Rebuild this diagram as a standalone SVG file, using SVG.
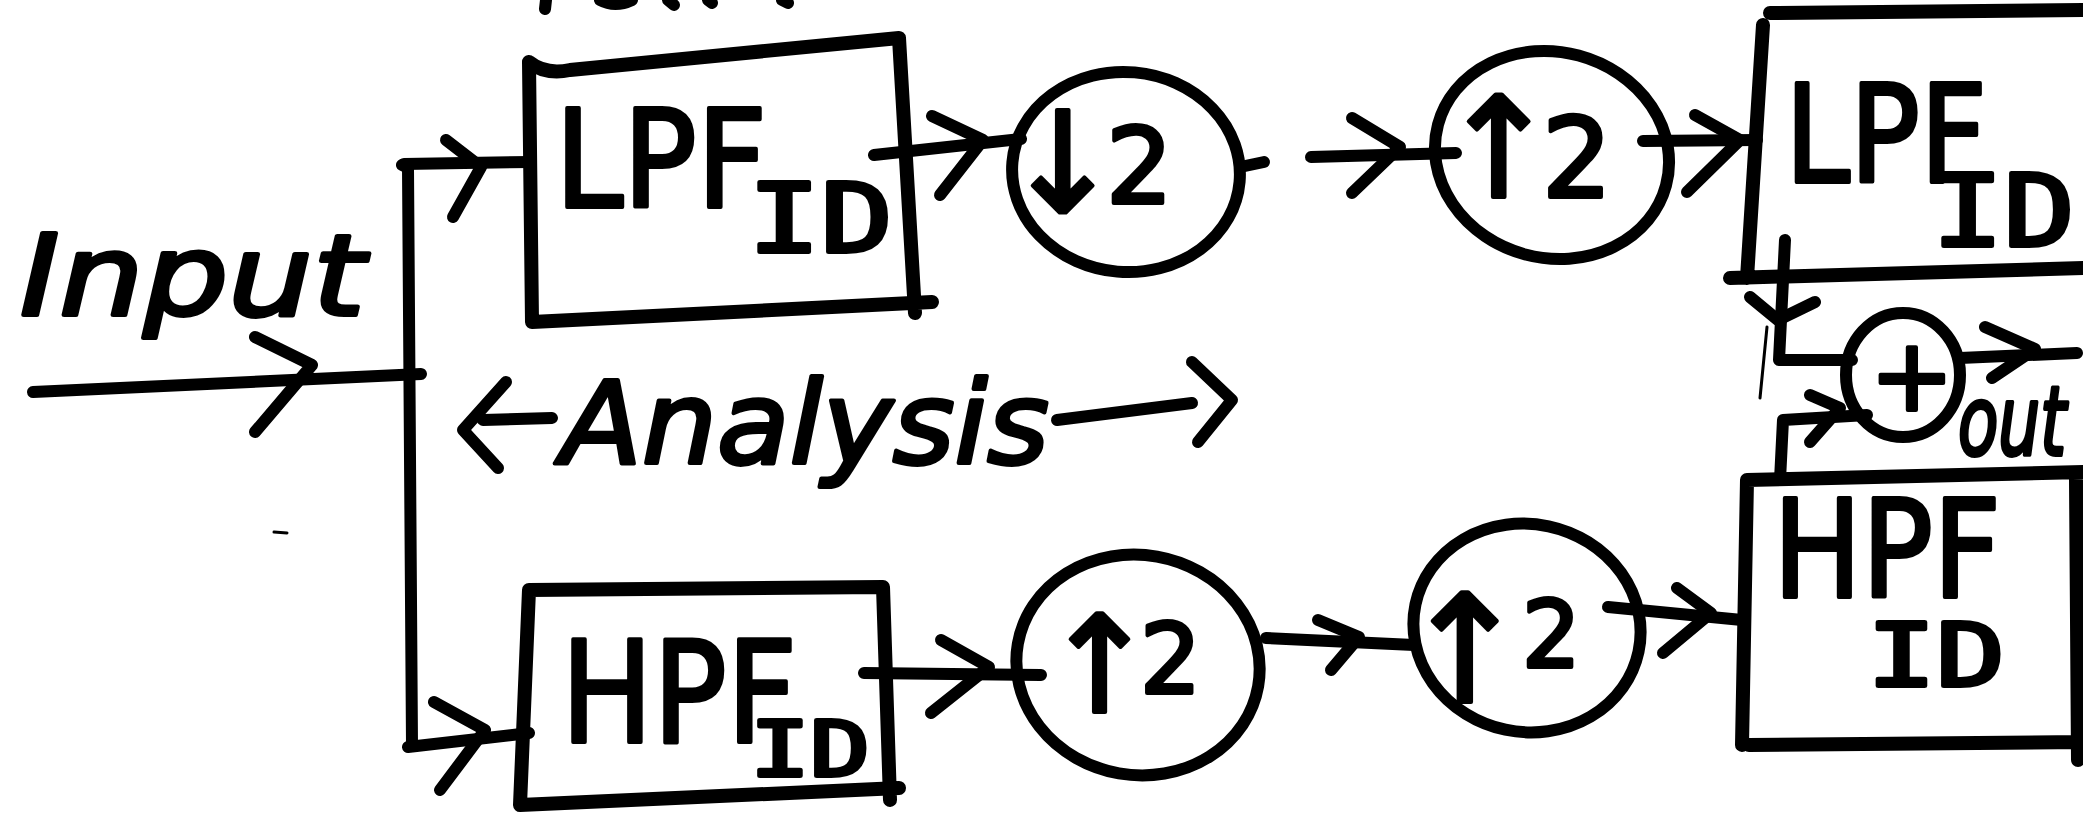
<svg xmlns="http://www.w3.org/2000/svg" width="2083" height="820" viewBox="0 0 2083 820">
  <defs>
    <style>
      .ink { fill: none; stroke: #000; stroke-width: 12; stroke-linecap: round; stroke-linejoin: round; }
      .thick { stroke-width: 14; }
      .hair { fill: none; stroke: #000; stroke-width: 3; stroke-linecap: round; }
      .lbl { font-family: "DejaVu Sans", "Noto Sans", sans-serif; fill: #000; stroke: #000; stroke-width: 4; stroke-linejoin: round; }
      .sub { font-family: "DejaVu Sans Mono", "Liberation Mono", monospace; }
      .hand { font-family: "DejaVu Sans", "Noto Sans", sans-serif; font-style: italic; fill: #000; stroke: #000; stroke-width: 4; stroke-linejoin: round; }
    </style>
  </defs>
  <rect width="2083" height="820" fill="#fff"/>

  <!-- ink stubs along the top edge -->
  <g id="top-stubs" class="ink">
    <path d="M546,0 L545,9"/>
    <path d="M600,0 Q615,8 632,0"/>
    <path d="M668,0 L674,5"/>
    <path d="M708,0 L712,3"/>
    <path d="M782,0 L788,3"/>
  </g>
  <path class="hair" d="M274,532 L287,533"/>

  <!-- connectors -->
  <g id="connectors" class="ink">
    <!-- input line and trunk -->
    <path d="M33,392 L421,374"/>
    <path d="M255,337 L312,365 L255,432"/>
    <path d="M402,165 L408,168 L412,745"/>
    <!-- trunk to LPF -->
    <path d="M404,164 L531,162"/>
    <path d="M446,140 L481,167 L453,217"/>
    <!-- trunk to HPF -->
    <path d="M408,747 L529,733"/>
    <path d="M434,702 L485,730 L440,790"/>
    <!-- LPF -> down2 -->
    <path d="M874,155 L1021,139"/>
    <path d="M932,116 L983,140 L940,195"/>
    <!-- down2 -> up2 (top) -->
    <path d="M1245,166 L1264,162"/>
    <path d="M1311,157 L1456,153"/>
    <path d="M1352,118 L1400,147 L1352,193"/>
    <!-- up2 -> LPF synthesis -->
    <path d="M1643,141 L1757,140"/>
    <path d="M1695,115 L1740,140 L1687,192"/>
    <!-- LPF synthesis -> sum -->
    <path d="M1785,240 L1779,360 L1852,360"/>
    <path d="M1750,297 L1778,320 L1815,302"/>
    <!-- HPF synthesis -> sum -->
    <path d="M1780,480 L1783,420 L1867,415"/>
    <path d="M1810,395 L1840,408 L1810,442"/>
    <!-- sum -> out -->
    <path d="M1960,358 L2077,353"/>
    <path d="M1985,327 L2035,349 L1992,378"/>
    <!-- HPF -> up2 (bottom) -->
    <path d="M864,673 L1041,675"/>
    <path d="M941,640 L989,667 L931,713"/>
    <!-- up2 -> up2 (bottom) -->
    <path d="M1266,638 L1414,645"/>
    <path d="M1318,620 L1359,637 L1331,670"/>
    <!-- up2 -> HPF synthesis -->
    <path d="M1608,607 L1742,620"/>
    <path d="M1677,588 L1711,613 L1663,653"/>
  </g>
  <path class="hair" d="M1767,327 L1760,398"/>

  <!-- input label -->
  <g id="input-label">
    <text class="hand" x="20" y="315" font-size="112" textLength="345" lengthAdjust="spacingAndGlyphs">Input</text>
  </g>

  <!-- analysis label with span arrows -->
  <g id="analysis-label">
    <path class="ink" d="M506,382 L463,430 L498,468"/>
    <path class="ink" d="M483,420 L552,418"/>
    <text class="hand" x="561" y="463" font-size="114" textLength="488" lengthAdjust="spacingAndGlyphs">Analysis</text>
    <path class="ink" d="M1057,420 L1192,403"/>
    <path class="ink" d="M1192,362 L1232,400 L1198,442"/>
  </g>

  <!-- analysis low-pass filter -->
  <g id="lpf-analysis">
    <path class="ink thick" d="M529,62 Q545,75 570,70 L899,38 L915,313 M932,302 L532,322 L529,62"/>
    <text class="lbl"><tspan x="555" y="207" font-size="136" textLength="212" lengthAdjust="spacingAndGlyphs">LPF</tspan><tspan class="sub" x="748" y="252" font-size="96" textLength="145" lengthAdjust="spacingAndGlyphs">ID</tspan></text>
  </g>

  <!-- analysis high-pass filter -->
  <g id="hpf-analysis">
    <path class="ink thick" d="M529,590 L883,587 L890,800 M899,788 L520,805 L529,590"/>
    <text class="lbl"><tspan x="561" y="742" font-size="140" textLength="236" lengthAdjust="spacingAndGlyphs">HPF</tspan><tspan class="sub" x="750" y="776" font-size="76" textLength="120" lengthAdjust="spacingAndGlyphs">ID</tspan></text>
  </g>

  <!-- downsampler, low band -->
  <g id="down2-low">
    <ellipse class="ink" cx="1126" cy="172" rx="114" ry="100" transform="rotate(5 1126 172)"/>
    <text class="lbl"><tspan x="1004" y="212" font-size="140">↓</tspan><tspan x="1106" y="203" font-size="105">2</tspan></text>
  </g>

  <!-- upsampler, low band -->
  <g id="up2-low">
    <ellipse class="ink" cx="1552" cy="155" rx="118" ry="103" transform="rotate(15 1552 155)"/>
    <text class="lbl"><tspan x="1440" y="197" font-size="140">↑</tspan><tspan x="1542" y="197" font-size="110">2</tspan></text>
  </g>

  <!-- low-pass synthesis filter -->
  <g id="lpf-synthesis">
    <path class="ink thick" d="M2083,10 L1770,13 M1763,25 L1747,278 M1730,278 L2083,268"/>
    <text class="lbl"><tspan x="1785" y="182" font-size="136" textLength="202" lengthAdjust="spacingAndGlyphs">LPF</tspan><tspan class="sub" x="1932" y="246" font-size="100" textLength="143" lengthAdjust="spacingAndGlyphs">ID</tspan></text>
  </g>

  <!-- summing junction -->
  <g id="sum">
    <ellipse class="ink" cx="1903" cy="375" rx="57" ry="62"/>
    <text class="lbl" x="1870" y="410" font-size="100">+</text>
  </g>

  <!-- output label -->
  <g id="out-label">
    <text class="hand" x="1958" y="455" font-size="96" textLength="108" lengthAdjust="spacingAndGlyphs">out</text>
  </g>

  <!-- first upsampler, high band -->
  <g id="up2-high-a">
    <ellipse class="ink" cx="1138" cy="665" rx="122" ry="110" transform="rotate(10 1138 665)"/>
    <text class="lbl"><tspan x="1043" y="712" font-size="135">↑</tspan><tspan x="1140" y="693" font-size="96">2</tspan></text>
  </g>

  <!-- second upsampler, high band -->
  <g id="up2-high-b">
    <ellipse class="ink" cx="1527" cy="628" rx="114" ry="104" transform="rotate(12 1527 628)"/>
    <text class="lbl"><tspan x="1402" y="702" font-size="150">↑</tspan><tspan x="1522" y="667" font-size="92">2</tspan></text>
  </g>

  <!-- high-pass synthesis filter -->
  <g id="hpf-synthesis">
    <path class="ink thick" d="M2083,472 L1747,480 L1742,745 M1749,745 L2083,742 M2076,480 L2078,760"/>
    <text class="lbl"><tspan x="1773" y="597" font-size="136" textLength="228" lengthAdjust="spacingAndGlyphs">HPF</tspan><tspan class="sub" x="1867" y="686" font-size="88" textLength="138" lengthAdjust="spacingAndGlyphs">ID</tspan></text>
  </g>
</svg>
